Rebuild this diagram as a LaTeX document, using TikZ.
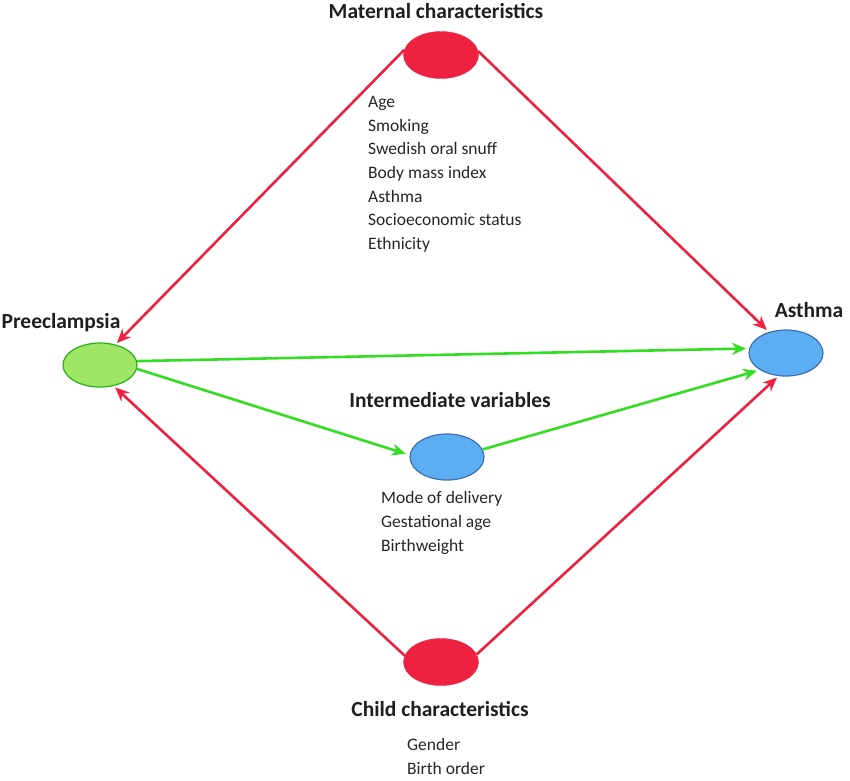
\documentclass[tikz,border=0pt]{standalone}
\usepackage{fontspec}
\setmainfont{Carlito}
\usetikzlibrary{shapes.geometric,arrows.meta}
\definecolor{cred}{HTML}{EE2240}
\definecolor{cgreen}{HTML}{33DD22}
\definecolor{cgfill}{HTML}{9EE666}
\definecolor{cbfill}{HTML}{5CAEF2}
\definecolor{cbdraw}{HTML}{3E6FB2}
\begin{document}
\begin{tikzpicture}[x=1pt,y=-1pt,
  redell/.style={ellipse,fill=cred,draw=cred,minimum width=75pt,minimum height=47pt,inner sep=0pt},
  blueell/.style={ellipse,fill=cbfill,draw=cbdraw,line width=1.2pt,minimum width=74pt,minimum height=46pt,inner sep=0pt},
  greenell/.style={ellipse,fill=cgfill,draw=cgreen!80!black,line width=1.2pt,minimum width=74pt,minimum height=44pt,inner sep=0pt},
  title/.style={font=\fontsize{21.5}{24}\selectfont\bfseries,text=black!88,anchor=base,inner sep=0pt},
  item/.style={font=\fontsize{17.5}{20}\selectfont,text=black!85,anchor=base west,inner sep=0pt},
  redarr/.style={draw=cred,line width=2.6pt,-{Stealth[length=14pt,width=12pt]}},
  greenarr/.style={draw=cgreen,line width=2.6pt,-{Stealth[length=14pt,width=12pt]}}]
\useasboundingbox (0,0) rectangle (850,780);
\fill[white] (0,0) rectangle (850,780);

\node[redell] (mat) at (441,55) {};
\node[greenell] (pre) at (100,365) {};
\node[blueell] (ast) at (786,353) {};
\node[blueell] (int) at (447,457) {};
\node[redell] (chi) at (441,662) {};

\node[title] (matl) at (436,18) {Maternal characteristics};
\node[title] (prel) at (61,328) {Preeclampsia};
\node[title] (astl) at (809,317) {Asthma};
\node[title] (intl) at (450,407) {Intermediate variables};
\node[title] (chil) at (440,716) {Child characteristics};

\node[item] (m1) at (368,107) {Age};
\node[item] (m2) at (368,131) {Smoking};
\node[item] (m3) at (368,154) {Swedish oral snuff};
\node[item] (m4) at (368,178) {Body mass index};
\node[item] (m5) at (368,202) {Asthma};
\node[item] (m6) at (368,225) {Socioeconomic status};
\node[item] (m7) at (368,249) {Ethnicity};

\node[item] (i1) at (381,503) {Mode of delivery};
\node[item] (i2) at (381,527) {Gestational age};
\node[item] (i3) at (381,551) {Birthweight};

\node[item] (c1) at (407,750) {Gender};
\node[item] (c2) at (407,774) {Birth order};

\draw[redarr,shorten >=2pt] (mat.172) -- (pre.53);
\draw[redarr,shorten >=3pt] (mat.6) -- (ast.129);
\draw[greenarr,shorten >=3pt] (pre.6) -- (ast.173);
\draw[greenarr,shorten >=4pt] (pre.-6) -- (int.177);
\draw[greenarr,shorten >=3pt] (int.12) -- (ast.213);
\draw[redarr,shorten >=2pt] (chi.170) -- (pre.-57);
\draw[redarr,shorten >=2pt] (chi.12) -- (ast.-108);
\end{tikzpicture}
\end{document}
